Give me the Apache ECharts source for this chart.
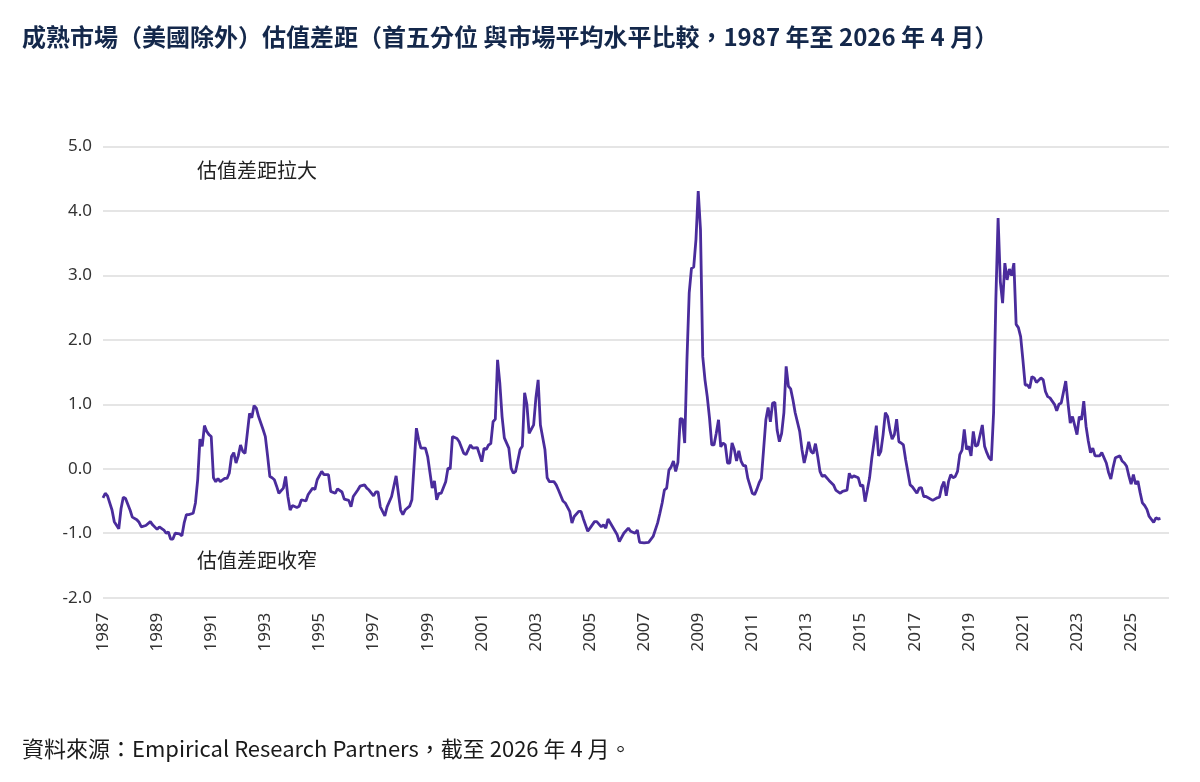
<!DOCTYPE html>
<html>
<head>
<meta charset="utf-8">
<script src="https://cdn.jsdelivr.net/npm/echarts@6/dist/echarts.min.js"></script>
<style>
html,body{margin:0;padding:0;background:#fff;}
#chart{width:1200px;height:782px;}
</style>
</head>
<body>
<div id="chart"></div>
<script>
const titleText = '成熟市場（美國除外）估值差距（首五分位 與市場平均水平比較，1987 年至 2026 年 4 月）';
const sourceText = '資料來源：Empirical Research Partners，截至 2026 年 4 月。';
const upperNote = '估值差距拉大';
const lowerNote = '估值差距收窄';

const dates = [
 '1987-01','1987-02','1987-03','1987-05','1987-06','1987-08','1987-09','1987-10','1987-11',
 '1988-01','1988-02','1988-04','1988-05','1988-06','1988-08','1988-10','1988-11',
 '1989-01','1989-02','1989-04','1989-05','1989-06','1989-07','1989-08','1989-09','1989-11','1989-12',
 '1990-01','1990-02','1990-03','1990-05','1990-06','1990-07','1990-08','1990-09','1990-10','1990-11','1990-12',
 '1991-01','1991-02','1991-03','1991-04','1991-05','1991-07','1991-08','1991-09','1991-10','1991-11','1991-12',
 '1992-01','1992-02','1992-03','1992-04','1992-06','1992-07','1992-08','1992-09','1992-10','1992-12',
 '1993-01','1993-02','1993-03','1993-04','1993-05','1993-06','1993-07','1993-09','1993-10','1993-11','1993-12',
 '1994-01','1994-03','1994-04','1994-05','1994-07','1994-08','1994-10','1994-11','1994-12',
 '1995-02','1995-03','1995-05','1995-06','1995-08','1995-09','1995-11','1995-12',
 '1996-02','1996-03','1996-04','1996-06','1996-07','1996-09','1996-10','1996-11',
 '1997-01','1997-02','1997-03','1997-04','1997-06','1997-07','1997-09','1997-11','1997-12',
 '1998-01','1998-02','1998-03','1998-05','1998-06','1998-08','1998-09','1998-10','1998-12',
 '1999-01','1999-03','1999-04','1999-05','1999-06','1999-07','1999-09','1999-10','1999-11','1999-12',
 '2000-02','2000-03','2000-05','2000-06','2000-08','2000-09','2000-11','2000-12',
 '2001-01','2001-02','2001-03','2001-04','2001-05','2001-06','2001-07','2001-08','2001-09','2001-10','2001-11',
 '2002-01','2002-02','2002-03','2002-04','2002-06','2002-07','2002-08','2002-09','2002-10','2002-12',
 '2003-01','2003-02','2003-03','2003-05','2003-06','2003-07','2003-09','2003-10','2003-11',
 '2004-01','2004-02','2004-04','2004-05','2004-06','2004-08','2004-09','2004-10','2004-12',
 '2005-01','2005-03','2005-04','2005-06','2005-07','2005-08','2005-09','2005-11',
 '2006-01','2006-02','2006-04','2006-06','2006-07','2006-09','2006-10','2006-11',
 '2007-01','2007-03','2007-05','2007-07','2007-08','2007-09','2007-10','2007-11','2007-12',
 '2008-01','2008-02','2008-03','2008-04','2008-05','2008-06','2008-07','2008-08','2008-09','2008-10','2008-11','2008-12',
 '2009-01','2009-02','2009-03','2009-04','2009-05','2009-06','2009-07','2009-08','2009-09','2009-10','2009-11','2009-12',
 '2010-01','2010-02','2010-03','2010-04','2010-05','2010-06','2010-07','2010-08','2010-09','2010-10','2010-11',
 '2011-01','2011-02','2011-03','2011-04','2011-05','2011-06','2011-07','2011-08','2011-09','2011-10','2011-11','2011-12',
 '2012-01','2012-02','2012-03','2012-04','2012-05','2012-06','2012-07','2012-08','2012-10','2012-11','2012-12',
 '2013-01','2013-02','2013-03','2013-04','2013-05','2013-06','2013-07','2013-08','2013-09','2013-11',
 '2014-01','2014-02','2014-04','2014-05','2014-07','2014-08','2014-09','2014-10','2014-12',
 '2015-01','2015-02','2015-03','2015-04','2015-05','2015-06','2015-08','2015-09','2015-10','2015-11','2015-12',
 '2016-01','2016-02','2016-03','2016-04','2016-05','2016-06','2016-07','2016-08','2016-09','2016-11','2016-12',
 '2017-02','2017-03','2017-04','2017-05','2017-06','2017-07','2017-09','2017-11','2017-12',
 '2018-01','2018-02','2018-03','2018-04','2018-05','2018-06','2018-07','2018-08','2018-09','2018-10','2018-11','2018-12',
 '2019-01','2019-02','2019-03','2019-04','2019-05','2019-07','2019-08','2019-09','2019-10','2019-11','2019-12',
 '2020-01','2020-02','2020-03','2020-04','2020-05','2020-06','2020-07','2020-08','2020-09','2020-10','2020-11','2020-12',
 '2021-01','2021-02','2021-03','2021-04','2021-05','2021-06','2021-07','2021-09','2021-10','2021-11','2021-12',
 '2022-01','2022-03','2022-04','2022-05','2022-06','2022-08','2022-09','2022-10','2022-11',
 '2023-01','2023-02','2023-03','2023-04','2023-05','2023-06','2023-07','2023-08','2023-09','2023-11','2023-12',
 '2024-02','2024-03','2024-04','2024-05','2024-06','2024-08','2024-09','2024-10','2024-11','2024-12',
 '2025-01','2025-02','2025-03','2025-04','2025-05','2025-06','2025-07','2025-08','2025-09','2025-11','2025-12',
 '2026-01','2026-02'
];

const values = [
 -0.45,-0.38,-0.42,-0.64,-0.82,-0.93,-0.62,-0.44,-0.46,
 -0.64,-0.75,-0.79,-0.83,-0.90,-0.88,-0.82,-0.87,
 -0.94,-0.90,-0.95,-1.00,-0.98,-1.09,-1.09,-1.00,-1.01,-1.04,
 -0.84,-0.71,-0.71,-0.69,-0.53,-0.17,0.46,0.35,0.67,0.58,0.53,
 0.50,-0.14,-0.20,-0.15,-0.20,-0.15,-0.15,-0.07,0.19,0.25,0.09,
 0.20,0.37,0.27,0.24,0.86,0.79,0.98,0.94,0.81,0.61,
 0.50,0.20,-0.12,-0.14,-0.17,-0.27,-0.38,-0.30,-0.12,-0.43,-0.64,
 -0.57,-0.60,-0.58,-0.48,-0.50,-0.40,-0.30,-0.32,-0.17,
 -0.04,-0.09,-0.09,-0.35,-0.38,-0.31,-0.36,-0.47,
 -0.49,-0.59,-0.43,-0.33,-0.27,-0.25,-0.30,-0.33,
 -0.42,-0.36,-0.36,-0.59,-0.73,-0.59,-0.43,-0.11,-0.38,
 -0.64,-0.71,-0.64,-0.58,-0.48,0.63,0.45,0.32,0.32,
 0.19,-0.30,-0.19,-0.48,-0.38,-0.38,-0.20,0.01,0.00,0.50,
 0.47,0.42,0.24,0.22,0.37,0.32,0.33,0.22,
 0.11,0.32,0.30,0.37,0.39,0.73,0.77,1.69,1.33,0.81,0.48,
 0.32,0.01,-0.07,-0.04,0.30,0.35,1.18,1.00,0.55,0.68,
 1.10,1.38,0.68,0.30,-0.14,-0.20,-0.20,-0.25,-0.33,
 -0.50,-0.53,-0.66,-0.84,-0.74,-0.66,-0.66,-0.77,-0.97,
 -0.92,-0.82,-0.82,-0.90,-0.87,-0.92,-0.78,-0.90,
 -1.02,-1.13,-1.00,-0.92,-0.97,-1.00,-0.95,-1.14,
 -1.15,-1.14,-1.05,-0.84,-0.69,-0.53,-0.33,-0.30,-0.02,
 0.03,0.12,-0.04,0.10,0.78,0.77,0.40,1.69,2.73,3.11,3.13,3.56,
 4.31,3.71,1.74,1.38,1.12,0.79,0.37,0.37,0.55,0.76,0.34,0.40,
 0.37,0.09,0.09,0.40,0.30,0.12,0.28,0.12,0.05,0.05,-0.15,
 -0.38,-0.40,-0.32,-0.22,-0.15,0.30,0.76,0.95,0.73,1.02,1.03,0.60,
 0.42,0.55,0.87,1.59,1.28,1.24,1.07,0.87,0.58,0.30,0.09,
 0.24,0.42,0.27,0.24,0.39,0.19,-0.04,-0.12,-0.10,-0.18,
 -0.25,-0.33,-0.38,-0.35,-0.33,-0.07,-0.14,-0.11,-0.14,
 -0.27,-0.25,-0.51,-0.33,-0.14,0.17,0.67,0.20,0.27,0.53,0.87,
 0.81,0.60,0.46,0.53,0.77,0.42,0.40,0.37,0.14,-0.25,-0.28,
 -0.38,-0.30,-0.29,-0.43,-0.43,-0.45,-0.49,-0.45,-0.44,
 -0.28,-0.20,-0.42,-0.20,-0.09,-0.14,-0.12,-0.04,0.22,0.29,0.61,0.30,
 0.35,0.20,0.58,0.35,0.37,0.68,0.35,0.25,0.17,0.13,0.87,
 2.62,3.89,2.90,2.57,3.19,2.93,3.10,3.00,3.19,2.24,2.19,2.05,
 1.69,1.30,1.30,1.25,1.43,1.41,1.34,1.41,1.38,1.20,1.12,
 1.10,1.00,0.90,1.00,1.02,1.36,1.02,0.71,0.81,
 0.53,0.81,0.76,1.05,0.66,0.43,0.25,0.32,0.20,0.20,0.25,
 0.09,-0.06,-0.16,0.02,0.17,0.20,0.12,0.09,0.04,-0.11,
 -0.24,-0.09,-0.24,-0.19,-0.37,-0.53,-0.57,-0.63,-0.74,-0.83,-0.76,
 -0.78,-0.77
];

const yTicks = [-2, -1, 0, 1, 2, 3, 4, 5];

const seriesData = dates.map(function (d, i) {
  const p = d.split('-');
  return [parseInt(p[0], 10) + (parseInt(p[1], 10) - 1) / 12, values[i]];
});

const latin = "'Noto Sans', 'Open Sans', 'Noto Sans CJK TC', sans-serif";
const cjk = "'Noto Sans CJK TC', 'Noto Sans', sans-serif";

const chart = echarts.init(document.getElementById('chart'));
chart.setOption({
  animation: false,
  backgroundColor: '#ffffff',
  grid: { left: 103, right: 31, top: 146.5, bottom: 184.3, containLabel: false },
  xAxis: {
    type: 'value',
    min: 1987,
    max: 2026.4,
    interval: 2,
    axisLine: { show: false },
    axisTick: { show: false },
    splitLine: { show: false },
    axisLabel: {
      rotate: 90,
      margin: 15,
      fontSize: 17,
      color: '#333333',
      fontFamily: latin,
      showMaxLabel: false,
      formatter: function (v) { return Number.isInteger(v) ? String(v) : ''; }
    }
  },
  yAxis: {
    type: 'value',
    min: yTicks[0],
    max: yTicks[yTicks.length - 1],
    interval: 1,
    axisLine: { show: false },
    axisTick: { show: false },
    splitLine: { show: true, lineStyle: { color: '#dcdcdc', width: 1.5 } },
    axisLabel: {
      margin: 11,
      fontSize: 17,
      color: '#333333',
      fontFamily: latin,
      formatter: function (v) { return v.toFixed(1); }
    }
  },
  series: [{
    type: 'line',
    data: seriesData,
    showSymbol: false,
    symbol: 'none',
    smooth: false,
    lineStyle: { color: '#4a2c9c', width: 2.8 },
    itemStyle: { color: '#4a2c9c' },
    z: 5
  }],
  graphic: [
    {
      type: 'text', left: 22, top: 25,
      style: { text: titleText, fontSize: 24, fontWeight: 'bold', fill: '#14284b', fontFamily: cjk }
    },
    {
      type: 'text', left: 197, top: 160,
      style: { text: upperNote, fontSize: 20, fill: '#222222', fontFamily: cjk }
    },
    {
      type: 'text', left: 197, top: 550,
      style: { text: lowerNote, fontSize: 20, fill: '#222222', fontFamily: cjk }
    },
    {
      type: 'text', left: 22, top: 738,
      style: { text: sourceText, fontSize: 22, fill: '#1a1a1a', fontFamily: cjk }
    }
  ]
});
</script>
</body>
</html>
